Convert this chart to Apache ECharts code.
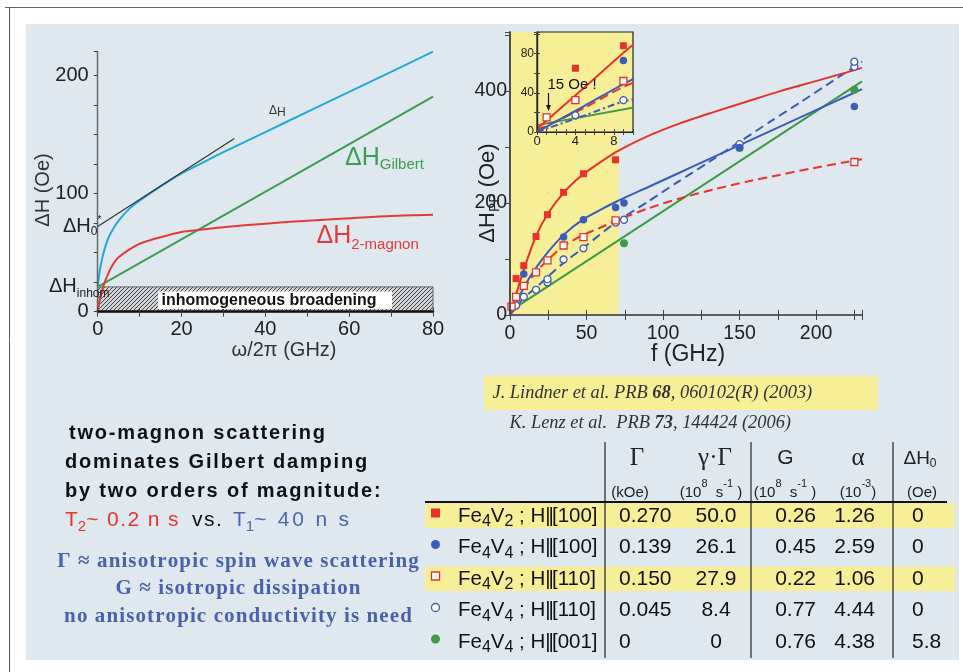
<!DOCTYPE html>
<html><head><meta charset="utf-8">
<script src="https://cdn.jsdelivr.net/npm/echarts@6/dist/echarts.min.js"></script>
<style>html,body{margin:0;padding:0;background:#fff}#c{width:963px;height:672px}</style>
</head><body><div id="c"></div>
<script>
// ---------- Left chart (model curves) ----------
const leftBlueX = [0,0.5,1,1.5,2.5,3.5,5,7.5,10,15,20,25,30,40,50,60,70,80];
const leftBlueY = [21,35,44,51,62,69,77,87,94,106,117,126,135,152,169,186,203,220];
const leftRedX  = [0,0.3,0.7,1.3,2,2.5,3,4,5,7.5,10,15,20,25,30,40,50,60,70,80];
const leftRedY  = [0,6,13,21,28,32,36,42,46,52.5,57.5,63,67.5,69.5,71.5,74.5,77,79,81,82];
const leftGreenX = [0,80];
const leftGreenY = [21,182];
const leftTangentX = [0,32.6];
const leftTangentY = [72,146.5];
const inhomLevel = 21;
const leftXTicks = [0,20,40,60,80];
const leftYTicks = [0,100,200];

// ---------- Right chart (measured points) ----------
const f_V2_100 = [4,9,17,24.5,35,48,69];
const dH_V2_100 = [65,88,140,179,219,252,277];
const f_V4_100 = [9,35,48,69,74.5,150,225];
const dH_V4_100 = [73,139,170,192,200,299,372];
const f_V2_110 = [1,4,9,17,24.5,35,48,69,225];
const dH_V2_110 = [15,32.5,52,76,97.5,124,139,169,273];
const f_V4_110 = [4,9,17,24.5,24.5,35,48,69,74.5,150,225,225];
const dH_V4_110 = [17,32.5,45,58,64,99,119,165,170,305,443,452];
const f_V4_001 = [74.5,150,225];
const dH_V4_001 = [128,298,402];
// fits
const fitF_V2_100 = [0,5,10,17,25,35,46,56,70,89,111,133,155,176,198,220,230];
const fitH_V2_100 = [3,46,89,141,182,218,247,267,292,318,342,362,381,399,416,433,441];
const fitF_V4_100 = [0,5,10,17,25,35,48,60,70,90,110,130,150,170,190,210,230];
const fitH_V4_100 = [0,27,54,84,113,143,171,189,203,228,253,278,303,328,353,378,403];
const fitF_V2_110 = [0,5,9,17,25,35,48,60,69,90,111,133,155,176,198,220,230];
const fitH_V2_110 = [2,25,46,77,99,123,143,157,168,190,208,224,238,250,262,273,278];
const fitF_V4_110 = [0,5,9,17,25,35,48,69,90,110,130,150,170,190,210,230];
const fitH_V4_110 = [0,17,31,49,69,93,120,165,202,238,273,309,345,380,416,452];
const fitF_V4_001 = [0,230];
const fitH_V4_001 = [7,417];
const yellowBandEnd = 71;
const rightXTicks = [0,50,100,150,200];
const rightYTicks = [0,200,400];
const insetXTicks = [0,4,8];
const insetYTicks = [0,40,80];

// ---------- Table ----------
const tableV = ['2','4','2','4','4'];
const tableDir = ['[100]','[100]','[110]','[110]','[001]'];
const gammaVals = ['0.270','0.139','0.150','0.045','0'];
const gammaGammaVals = ['50.0','26.1','27.9','8.4','0'];
const GVals = ['0.26','0.45','0.22','0.77','0.76'];
const alphaVals = ['1.26','2.59','1.06','4.44','4.38'];
const dH0Vals = ['0','0','0','0','5.8'];

// ---------- helpers ----------
const zip = (a,b)=>a.map((v,i)=>[v,b[i]]);
const SANS = "'Liberation Sans', Arial, sans-serif";
const SERIF = "'Liberation Serif', 'Times New Roman', serif";
const mc = document.createElement('canvas').getContext('2d');
function measure(t,s,w,f,it){ mc.font=(it?'italic':'normal')+' '+(w||'normal')+' '+s+'px '+f; return mc.measureText(t).width; }
function expand(segs){
  const out=[];
  segs.forEach(g=>{ if(g.ls){ for(const ch of g.t){ out.push(Object.assign({},g,{t:ch, extra:g.ls})); } } else out.push(g); });
  return out;
}
function run(x,y,segs,align,z){
  segs = expand(segs);
  let total=0; const ws=segs.map(g=>{const m=measure(g.t,g.s,g.w,g.f||SANS,g.it)+(g.extra||0); total+=m; return m;});
  if(segs.length && segs[segs.length-1].extra) total -= segs[segs.length-1].extra;
  let cx = align==='center'? x-total/2 : align==='right'? x-total : x;
  const out=[];
  segs.forEach((g,i)=>{
    out.push({type:'text', x:cx, y:y+(g.dy||0), z:z||100, silent:true,
      style:{text:g.t, fontSize:g.s, fontWeight:g.w||'normal', fontFamily:g.f||SANS, fontStyle:g.it?'italic':'normal',
        fill:g.c||'#111', align:'left', verticalAlign:'middle', textAlign:'left', textVerticalAlign:'middle'}});
    cx+=ws[i];
  });
  return out;
}
function hatch(){
  const c=document.createElement('canvas'); c.width=c.height=4; const g=c.getContext('2d');
  g.fillStyle='#cfd3d5'; g.fillRect(0,0,4,4);
  g.strokeStyle='#444'; g.lineWidth=1;
  g.beginPath(); g.moveTo(0,4); g.lineTo(4,0); g.moveTo(-1,1); g.lineTo(1,-1); g.moveTo(3,5); g.lineTo(5,3); g.stroke();
  return c;
}

const RED='#e8322b', BLUE='#3b5cb8', GREEN='#3e9b47', YEL='#f7ee98', PANEL='#dee8ee';
const LRED='#e43a3a', LBLUE='#22a8e0', LGREEN='#3c9e50';

const chart = echarts.init(document.getElementById('c'), null, {renderer:'canvas', width:963, height:672});

const tickStyle = {lineStyle:{color:'#444', width:1}};
function vAxisBase(extra){ return Object.assign({type:'value', splitLine:{show:false}, z:10}, extra); }

const option = {
  animation:false,
  grid:[
    {left:97.7, top:51.7, width:335.3, height:260, outerBoundsMode:'none', containLabel:false},
    {left:510, top:32, width:352, height:283, outerBoundsMode:'none', containLabel:false},
    {left:537, top:32, width:96, height:100, outerBoundsMode:'none', containLabel:false, show:true, backgroundColor:YEL, borderColor:'#222', borderWidth:1.2, z:5}
  ],
  xAxis:[
    vAxisBase({gridIndex:0, min:0, max:80, interval:10, axisLine:{lineStyle:{color:'#111', width:2.5}},
      axisTick:{inside:true, length:4, ...tickStyle},
      axisLabel:{fontSize:20, color:'#222', fontFamily:SANS, margin:8, formatter:v=>leftXTicks.includes(v)?String(v):''}}),
    vAxisBase({gridIndex:0, position:'top', min:0, max:80, interval:10, axisLine:{show:false},
      axisTick:{inside:true, length:5, ...tickStyle}, axisLabel:{show:false}}),
    vAxisBase({gridIndex:1, min:0, max:230, interval:25, axisLine:{lineStyle:{color:'#555', width:1.5}},
      axisTick:{inside:true, length:5, ...tickStyle},
      axisLabel:{fontSize:19.5, color:'#222', fontFamily:SANS, margin:9, formatter:v=>rightXTicks.includes(v)?String(v):''}}),
    vAxisBase({gridIndex:1, position:'top', min:0, max:230, interval:25, axisLine:{lineStyle:{color:'#555', width:1.5}},
      axisTick:{inside:true, length:5, ...tickStyle}, axisLabel:{show:false}}),
    vAxisBase({gridIndex:2, z:12, min:0, max:10, interval:1, axisLine:{lineStyle:{color:'#222', width:1.2}},
      axisTick:{inside:true, length:3, ...tickStyle},
      axisLabel:{fontSize:13, color:'#222', fontFamily:SANS, margin:3, formatter:v=>insetXTicks.includes(v)?String(v):''}}),
    vAxisBase({gridIndex:2, z:12, position:'top', min:0, max:10, interval:1, axisLine:{lineStyle:{color:'#222', width:1.2}},
      axisTick:{inside:true, length:3, ...tickStyle}, axisLabel:{show:false}})
  ],
  yAxis:[
    vAxisBase({gridIndex:0, min:0, max:220, interval:25, axisLine:{lineStyle:{color:'#444', width:1.2}},
      axisTick:{inside:false, length:3, ...tickStyle},
      axisLabel:{fontSize:20, color:'#222', fontFamily:SANS, margin:9, formatter:v=>leftYTicks.includes(v)?String(v):''}}),
    vAxisBase({gridIndex:0, position:'right', min:0, max:220, interval:25, axisLine:{lineStyle:{color:'#666', width:1.2}},
      axisTick:{inside:true, length:4, ...tickStyle}, axisLabel:{show:false}}),
    vAxisBase({gridIndex:1, min:0, max:505, interval:100, axisLine:{lineStyle:{color:'#111', width:1.5}},
      axisTick:{show:false},
      axisLabel:{fontSize:19.5, color:'#222', fontFamily:SANS, margin:3, formatter:v=>rightYTicks.includes(v)?String(v):''}}),
    vAxisBase({gridIndex:1, position:'right', min:0, max:505, interval:100, axisLine:{lineStyle:{color:'#555', width:1.5}},
      axisTick:{inside:true, length:5, ...tickStyle}, axisLabel:{show:false}}),
    vAxisBase({gridIndex:2, z:12, min:0, max:102, interval:20, axisLine:{lineStyle:{color:'#222', width:1.2}},
      axisTick:{inside:true, length:3, ...tickStyle},
      axisLabel:{fontSize:12, color:'#222', fontFamily:SANS, margin:3, formatter:v=>insetYTicks.includes(v)?String(v):''}}),
    vAxisBase({gridIndex:2, z:12, position:'right', min:0, max:102, interval:20, axisLine:{lineStyle:{color:'#222', width:1.2}},
      axisTick:{inside:true, length:3, ...tickStyle}, axisLabel:{show:false}})
  ],
  series:[]
};

const S = option.series;
// left chart
S.push({type:'line', xAxisIndex:0, yAxisIndex:0, data:[], z:1, silent:true,
  markArea:{silent:true, itemStyle:{color:{image:hatch(), repeat:'repeat'}, borderColor:'#666', borderWidth:1},
    data:[[{coord:[0,0]},{coord:[80,inhomLevel]}]]}});
function lline(xs,ys,color,w,extra){ return Object.assign({type:'line', xAxisIndex:0, yAxisIndex:0, data:zip(xs,ys), showSymbol:false, symbol:'none', smooth:0.3, z:3, silent:true, lineStyle:{color, width:w}}, extra||{}); }
S.push(lline(leftGreenX,leftGreenY,LGREEN,2,{smooth:false}));
S.push(lline(leftRedX,leftRedY,LRED,2));
S.push(lline(leftBlueX,leftBlueY,LBLUE,2));
S.push(lline(leftTangentX,leftTangentY,'#333',1.2,{smooth:false}));

// right main chart
S.push({type:'line', xAxisIndex:2, yAxisIndex:2, data:[], z:1, silent:true,
  markArea:{silent:true, itemStyle:{color:YEL}, data:[[{xAxis:0},{xAxis:yellowBandEnd}]]}});
function fit(xi,yi,xs,ys,color,type,z){ return {type:'line', xAxisIndex:xi, yAxisIndex:yi, data:zip(xs,ys), showSymbol:false, symbol:'none', smooth:0.25, clip:true, z:z||3, silent:true, lineStyle:{color, width:2, type:type||'solid'}}; }
function pts(xi,yi,xs,ys,sym,fill,stroke,size,z){ return {type:'scatter', xAxisIndex:xi, yAxisIndex:yi, data:zip(xs,ys), symbol:sym, symbolSize:size, clip:true, z:z||4, silent:true, itemStyle:{color:fill, borderColor:stroke, borderWidth:fill==='#fff'?1.3:0, opacity:1}}; }
function addPanel(xi,yi,z0,dashDot){
  S.push(fit(xi,yi,fitF_V4_001,fitH_V4_001,GREEN,'solid',z0+3));
  S.push(fit(xi,yi,fitF_V4_110,fitH_V4_110,BLUE,dashDot?[7,3,2,3]:[9,5],z0+3));
  S.push(fit(xi,yi,fitF_V2_110,fitH_V2_110,RED,[9,5],z0+3));
  S.push(fit(xi,yi,fitF_V4_100,fitH_V4_100,BLUE,'solid',z0+3));
  S.push(fit(xi,yi,fitF_V2_100,fitH_V2_100,RED,'solid',z0+3));
  S.push(pts(xi,yi,f_V4_001,dH_V4_001,'circle',GREEN,GREEN,8,z0+4));
  S.push(pts(xi,yi,f_V4_110,dH_V4_110,'circle','#fff',BLUE,7,z0+4));
  S.push(pts(xi,yi,f_V2_110,dH_V2_110,'rect','#fff',RED,7,z0+4));
  S.push(pts(xi,yi,f_V4_100,dH_V4_100,'circle',BLUE,BLUE,7.5,z0+4));
  S.push(pts(xi,yi,f_V2_100,dH_V2_100,'rect',RED,RED,7,z0+4));
}
addPanel(2,2,0,false);
addPanel(4,4,5,true);

// ---------- graphics ----------
const G = [];
G.push({type:'rect', z:-100, silent:true, shape:{x:26,y:24,width:933,height:636}, style:{fill:PANEL}});
G.push({type:'line', z:-99, silent:true, shape:{x1:5,y1:7.5,x2:963,y2:7.5}, style:{stroke:'#666', lineWidth:1}});
G.push({type:'line', z:-99, silent:true, shape:{x1:9.5,y1:7,x2:9.5,y2:672}, style:{stroke:'#555', lineWidth:1}});

// left chart annotations
G.push({type:'rect', z:50, silent:true, shape:{x:158,y:291.5,width:234,height:17.5}, style:{fill:'#fff'}});
G.push(...run(161.5,300.5,[{t:'inhomogeneous broadening',s:16,w:'bold',c:'#111'}],'left'));
G.push(...run(269,111,[{t:'Δ',s:12,c:'#333'},{t:'H',s:12,dy:2,c:'#333'}],'left'));
G.push(...run(345,158,[{t:'ΔH',s:25,c:LGREEN},{t:'Gilbert',s:15,dy:7,c:LGREEN}],'left'));
G.push(...run(316.5,236.5,[{t:'ΔH',s:25,c:LRED},{t:'2-magnon',s:15,dy:8,c:LRED}],'left'));
G.push(...run(63,226.5,[{t:'ΔH',s:20,c:'#222'},{t:'0',s:12,dy:5,c:'#222'},{t:'*',s:10,dy:-6,c:'#222'}],'left'));
G.push(...run(49,286,[{t:'ΔH',s:20,c:'#222'},{t:'inhom',s:12,dy:8,c:'#222'}],'left'));
G.push({type:'group', x:43, y:190, rotation:Math.PI/2, children: run(0,0,[{t:'ΔH (Oe)',s:20,c:'#333'}],'center')});
G.push(...run(284,350,[{t:'ω/2π (GHz)',s:20,c:'#333'}],'center'));

// right chart annotations
G.push({type:'group', x:488, y:193, rotation:Math.PI/2, children: run(0,0,[{t:'ΔH',s:22,c:'#222'},{t:'PP',s:14,dy:7,c:'#222'},{t:' (Oe)',s:22,c:'#222'}],'center')});
G.push(...run(688,355,[{t:'f (GHz)',s:23,c:'#222'}],'center'));
G.push(...run(547.5,85,[{t:'15 Oe !',s:15,c:'#111'}],'left',120));
G.push({type:'line', z:120, silent:true, shape:{x1:548.5,y1:93,x2:548.5,y2:106}, style:{stroke:'#111', lineWidth:1.2}});
G.push({type:'polygon', z:120, silent:true, shape:{points:[[546,105],[551,105],[548.5,111]]}, style:{fill:'#111'}});

// citations
G.push({type:'rect', z:-50, silent:true, shape:{x:484,y:376,width:394,height:34}, style:{fill:YEL}});
G.push(...run(492.5,393.5,[{t:'J. Lindner et al. PRB ',s:18.4,f:SERIF,it:true,c:'#333'},{t:'68',s:18.4,f:SERIF,it:true,w:'bold',c:'#333'},{t:', 060102(R) (2003)',s:18.4,f:SERIF,it:true,c:'#333'}],'left'));
G.push(...run(509.5,423.5,[{t:'K. Lenz et al.  PRB ',s:18.4,f:SERIF,it:true,c:'#333'},{t:'73',s:18.4,f:SERIF,it:true,w:'bold',c:'#333'},{t:', 144424 (2006)',s:18.4,f:SERIF,it:true,c:'#333'}],'left'));

// table
const rowY = [516,547.5,579,610.5,642];
const rowHi = [true,false,true,false,false];
rowY.forEach((y,i)=>{ if(rowHi[i]) G.push({type:'rect', z:-50, silent:true, shape:{x:425,y:y-12.5,width:530,height:24.5}, style:{fill:YEL}}); });
[605,751,893].forEach(x=>G.push({type:'line', z:-40, silent:true, shape:{x1:x,y1:442,x2:x,y2:658}, style:{stroke:'#333', lineWidth:1.3}}));
G.push({type:'line', z:-40, silent:true, shape:{x1:425,y1:502,x2:947,y2:502}, style:{stroke:'#111', lineWidth:2}});
// header
G.push(...run(637,458.5,[{t:'Γ',s:25,f:SERIF,c:'#222'}],'center'));
G.push(...run(715,458.5,[{t:'γ·Γ',s:25,f:SERIF,c:'#222'}],'center'));
G.push(...run(785.5,458.5,[{t:'G',s:21,c:'#222'}],'center'));
G.push(...run(858,458.5,[{t:'α',s:25,f:SERIF,c:'#222'}],'center'));
G.push(...run(920,458.5,[{t:'ΔH',s:19,c:'#222'},{t:'0',s:12,dy:5,c:'#222'}],'center'));
G.push(...run(630,493,[{t:'(kOe)',s:15,c:'#222'}],'center'));
G.push(...run(711,493,[{t:'(10',s:15,c:'#222'},{t:'8',s:11,dy:-9,c:'#222'},{t:'  s',s:15,c:'#222'},{t:'-1',s:11,dy:-9,c:'#222'},{t:' )',s:15,c:'#222'}],'center'));
G.push(...run(785,493,[{t:'(10',s:15,c:'#222'},{t:'8',s:11,dy:-9,c:'#222'},{t:'  s',s:15,c:'#222'},{t:'-1',s:11,dy:-9,c:'#222'},{t:' )',s:15,c:'#222'}],'center'));
G.push(...run(858,493,[{t:'(10',s:15,c:'#222'},{t:'-3',s:11,dy:-9,c:'#222'},{t:')',s:15,c:'#222'}],'center'));
G.push(...run(922,493,[{t:'(Oe)',s:15,c:'#222'}],'center'));
// markers
const mk = [
  {type:'rect', shape:{x:431,y:-4.5,width:9,height:9}, style:{fill:RED}},
  {type:'circle', shape:{cx:435.5,cy:0,r:4.5}, style:{fill:BLUE}},
  {type:'rect', shape:{x:431.5,y:-4,width:8,height:8}, style:{fill:'#fff', stroke:RED, lineWidth:1.3}},
  {type:'circle', shape:{cx:435.5,cy:0,r:4}, style:{fill:'#fff', stroke:BLUE, lineWidth:1.3}},
  {type:'circle', shape:{cx:435.5,cy:0,r:4.5}, style:{fill:GREEN}}
];
rowY.forEach((y,i)=>{
  const m = JSON.parse(JSON.stringify(mk[i]));
  if(m.shape.y!==undefined) m.shape.y += y-3; else m.shape.cy += y-3;
  m.z=100; m.silent=true; G.push(m);
  G.push(...run(458,y,[{t:'Fe',s:20.5},{t:'4',s:16,dy:6},{t:'V',s:20.5},{t:tableV[i],s:16,dy:6},{t:' ; H',s:20.5},{t:'||',s:20.5,ls:-2},{t:tableDir[i],s:20.5}],'left'));
  G.push(...run(619,y,[{t:gammaVals[i],s:21}],'left'));
  G.push(...run(716,y,[{t:gammaGammaVals[i],s:21}],'center'));
  G.push(...run(816,y,[{t:GVals[i],s:21}],'right'));
  G.push(...run(875,y,[{t:alphaVals[i],s:21}],'right'));
  G.push(...run(912,y,[{t:dH0Vals[i],s:21}],'left'));
});

// left text block
G.push(...run(69,433,[{t:'two-magnon scattering',s:20,w:'bold',c:'#111',ls:1.8}],'left'));
G.push(...run(65,462,[{t:'dominates Gilbert damping',s:20,w:'bold',c:'#111',ls:1.8}],'left'));
G.push(...run(65,491,[{t:'by two orders of magnitude:',s:20,w:'bold',c:'#111',ls:1.8}],'left'));
G.push(...run(65,520,[{t:'T',s:21,c:'#e8342c'},{t:'2',s:15,dy:7,c:'#e8342c'},{t:'~ 0.2 n s',s:21,c:'#e8342c',ls:1.4}],'left'));
G.push(...run(192,520,[{t:'vs.',s:21,c:'#111',ls:1.5}],'left'));
G.push(...run(233,520,[{t:'T',s:21,c:'#4a66b5'},{t:'1',s:15,dy:7,c:'#4a66b5'},{t:'~ 40 n s',s:21,c:'#4a66b5',ls:2.8}],'left'));
const BL='#4a62ad';
G.push(...run(238,562,[{t:'Γ ≈ anisotropic spin wave scattering',s:21,w:'bold',f:SERIF,c:BL,ls:1.1}],'center'));
G.push(...run(238,589,[{t:'G ≈ isotropic dissipation',s:21,w:'bold',f:SERIF,c:BL,ls:1.1}],'center'));
G.push(...run(238,617,[{t:'no anisotropic conductivity is need',s:21,w:'bold',f:SERIF,c:BL,ls:1.1}],'center'));

option.graphic = {elements:G};
chart.setOption(option);
</script></body></html>
